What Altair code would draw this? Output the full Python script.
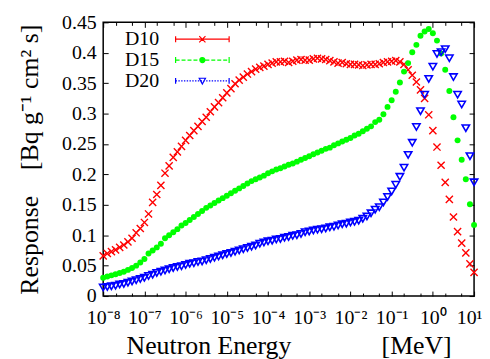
import altair as alt
import pandas as pd

FONT = "Liberation Serif"

# ---------------- data ----------------
series_names = ["D10", "D15", "D20"]

log_energy = [
    -8.0, -7.9, -7.8, -7.7, -7.6, -7.5, -7.4, -7.3, -7.2, -7.1,
    -7.0, -6.9, -6.8, -6.7, -6.6, -6.5, -6.4, -6.3, -6.2, -6.1,
    -6.0, -5.9, -5.8, -5.7, -5.6, -5.5, -5.4, -5.3, -5.2, -5.1,
    -5.0, -4.9, -4.8, -4.7, -4.6, -4.5, -4.4, -4.3, -4.2, -4.1,
    -4.0, -3.9, -3.8, -3.7, -3.6, -3.5, -3.4, -3.3, -3.2, -3.1,
    -3.0, -2.9, -2.8, -2.7, -2.6, -2.5, -2.4, -2.3, -2.2, -2.1,
    -2.0, -1.9, -1.8, -1.7, -1.6, -1.5, -1.4, -1.3, -1.2, -1.1,
    -1.0, -0.9, -0.8, -0.7, -0.6, -0.5, -0.4, -0.3, -0.2, -0.1,
    0.0, 0.1, 0.2, 0.3, 0.4, 0.5, 0.6, 0.7, 0.8, 0.9,
    1.0,
]

d10 = [
    0.066, 0.070, 0.073, 0.076, 0.080, 0.084, 0.089, 0.095, 0.104, 0.111,
    0.121, 0.135, 0.154, 0.167, 0.182, 0.202, 0.214, 0.228, 0.237, 0.246,
    0.256, 0.264, 0.272, 0.279, 0.287, 0.294, 0.303, 0.311, 0.318, 0.326,
    0.334, 0.341, 0.349, 0.355, 0.360, 0.365, 0.369, 0.373, 0.376, 0.378,
    0.381, 0.383, 0.385, 0.385, 0.386, 0.384, 0.386, 0.388, 0.389, 0.388,
    0.388, 0.390, 0.391, 0.390, 0.389, 0.387, 0.385, 0.383, 0.384, 0.382,
    0.381, 0.381, 0.380, 0.379, 0.380, 0.381, 0.381, 0.382, 0.384, 0.385,
    0.386, 0.387, 0.385, 0.381, 0.372, 0.363, 0.352, 0.339, 0.325, 0.298,
    0.272, 0.245, 0.215, 0.187, 0.159, 0.130, 0.106, 0.087, 0.071, 0.053,
    0.039,
]

d15 = [
    0.030, 0.032, 0.034, 0.036, 0.038, 0.040, 0.043, 0.046, 0.050, 0.055,
    0.061, 0.070, 0.075, 0.080, 0.086, 0.095, 0.100, 0.105, 0.110, 0.116,
    0.120, 0.125, 0.130, 0.135, 0.140, 0.145, 0.149, 0.153, 0.157, 0.161,
    0.165, 0.169, 0.173, 0.177, 0.181, 0.185, 0.189, 0.192, 0.195, 0.198,
    0.202, 0.205, 0.208, 0.210, 0.213, 0.216, 0.218, 0.221, 0.224, 0.227,
    0.230, 0.233, 0.236, 0.239, 0.242, 0.244, 0.248, 0.251, 0.254, 0.257,
    0.260, 0.264, 0.267, 0.271, 0.275, 0.279, 0.286, 0.290, 0.299, 0.311,
    0.322, 0.336, 0.351, 0.369, 0.383, 0.401, 0.413, 0.428, 0.435, 0.439,
    0.432, 0.420, 0.399, 0.372, 0.337, 0.294, 0.256, 0.224, 0.192, 0.151,
    0.117,
]

d20 = [
    0.014, 0.015, 0.016, 0.017, 0.019, 0.020, 0.022, 0.024, 0.026, 0.028,
    0.030, 0.033, 0.035, 0.038, 0.040, 0.042, 0.044, 0.046, 0.048, 0.049,
    0.051, 0.053, 0.054, 0.056, 0.057, 0.059, 0.061, 0.063, 0.065, 0.067,
    0.069, 0.071, 0.073, 0.075, 0.077, 0.079, 0.081, 0.083, 0.086, 0.088,
    0.090, 0.091, 0.093, 0.094, 0.096, 0.097, 0.099, 0.100, 0.102, 0.105,
    0.106, 0.108, 0.109, 0.110, 0.111, 0.113, 0.114, 0.116, 0.118, 0.119,
    0.121, 0.122, 0.124, 0.127, 0.131, 0.136, 0.142, 0.146, 0.154, 0.163,
    0.172, 0.183, 0.196, 0.211, 0.232, 0.252, 0.278, 0.304, 0.331, 0.357,
    0.377, 0.398, 0.401, 0.406, 0.391, 0.360, 0.331, 0.315, 0.276, 0.230,
    0.187,
]

x_tick_values = [1e-8, 1e-7, 1e-6, 1e-5, 1e-4, 1e-3, 1e-2, 1e-1, 1e0, 1e1]
x_tick_labels = ["10⁻⁸", "10⁻⁷", "10⁻⁶", "10⁻⁵", "10⁻⁴", "10⁻³",
                 "10⁻²", "10⁻¹", "10⁰", "10¹"]
x_minor_values = [2e-8, 5e-8, 2e-7, 5e-7, 2e-6, 5e-6, 2e-5, 5e-5, 2e-4, 5e-4,
                  2e-3, 5e-3, 2e-2, 5e-2, 2e-1, 5e-1, 2e0, 5e0]
y_tick_values = [0, 0.05, 0.1, 0.15, 0.2, 0.25, 0.3, 0.35, 0.4, 0.45]

x_title = "Neutron Energy" + "\u00a0" * 14 + "[MeV]"
y_title = "Response" + "\u00a0" * 4 + "[Bq g⁻¹ cm² s]"

# ---------------- table ----------------
rows = []
for name, vals in zip(series_names, [d10, d15, d20]):
    for le, v in zip(log_energy, vals):
        rows.append({"series": name, "energy": 10 ** le, "response": v})
df = pd.DataFrame(rows)

# ---------------- styles ----------------
colors = ["#ff0000", "#00ff00", "#0000ff"]
cross_path = "M-1,-1L1,1M-1,1L1,-1"


def fmt(v):
    return f"{v:.3f}"


def dashed(x0, x1, dash, gap):
    parts = []
    x = x0
    while x < x1:
        e = min(x + dash, x1)
        parts.append(f"M{fmt(x)},0H{fmt(e)}")
        x = e + gap
    return "".join(parts)


LX0, LX1, LXC, CAP = 9.29, 17.0, 13.14, 0.43
caps = f"M{LX0},{-CAP}V{CAP}M{LX1},{-CAP}V{CAP}"
leg_d10 = (f"M{LX0},0H{LX1}" + caps +
           f"M{fmt(LXC-0.45)},-0.45L{fmt(LXC+0.45)},0.45"
           f"M{fmt(LXC-0.45)},0.45L{fmt(LXC+0.45)},-0.45")
cr = 0.36
leg_d15 = (dashed(LX0, LX1, 0.571, 0.286) + caps +
           f"M{fmt(LXC-cr)},0A{cr},{cr} 0 1,0 {fmt(LXC+cr)},0"
           f"A{cr},{cr} 0 1,0 {fmt(LXC-cr)},0Z")
leg_d20 = (dashed(LX0, LX1, 0.2, 0.2) + caps +
           f"M{fmt(LXC-0.45)},-0.38L{fmt(LXC+0.45)},-0.38L{fmt(LXC)},0.45Z")
legend_paths = [leg_d10, leg_d15, leg_d20]
legend_fills = ["transparent", "#00ff00", "transparent"]

xscale = alt.Scale(type="log", domain=[1e-8, 10], nice=False)
yscale = alt.Scale(domain=[0, 0.45], nice=False, zero=False)

common = dict(grid=False, domain=False, tickColor="black", tickWidth=1,
              labelFont=FONT, labelFontSize=20, labelColor="black",
              titleFont=FONT, titleFontSize=26, titleFontWeight="normal",
              titleColor="black")

label_expr = ("[" + ",".join(f"'{s}'" for s in x_tick_labels) +
              "][round(log(datum.value)/LN10)+8]")

x_bottom = alt.Axis(orient="bottom", values=x_tick_values, offset=-5, tickSize=5,
                    labelExpr=label_expr, labelPadding=12, labelOverlap=False,
                    labelFlush=False,
                    labelOffset={"condition": {"test": "datum.value > 5", "value": -5}, "value": 0},
                    title=x_title, titleX=187, titleY=63,
                    titleBaseline="alphabetic", **common)
y_left = alt.Axis(orient="left", values=y_tick_values, offset=-5, tickSize=5,
                  format="~g", labelPadding=7, labelOverlap=False, labelFlush=False,
                  title=y_title, titleX=-71, titleY=138,
                  titleBaseline="alphabetic", **common)
x_top = alt.Axis(orient="top", values=x_tick_values, offset=-5, tickSize=5,
                 labels=False, title=None, **common)
y_right = alt.Axis(orient="right", values=y_tick_values, offset=-5, tickSize=5,
                   labels=False, title=None, **common)
x_bottom_minor = alt.Axis(orient="bottom", values=x_minor_values, offset=-3,
                          tickSize=3, labels=False, title=None, **common)
x_top_minor = alt.Axis(orient="top", values=x_minor_values, offset=-3,
                       tickSize=3, labels=False, title=None, **common)

base = alt.Chart(df)


def X(axis):
    return alt.X("energy:Q", scale=xscale, axis=axis)


def Y(axis):
    return alt.Y("response:Q", scale=yscale, axis=axis)


l_d10 = base.transform_filter(alt.datum.series == "D10").mark_point(
    shape=cross_path, size=52, filled=False, color=colors[0], strokeWidth=1.4, opacity=1
).encode(x=X(x_bottom), y=Y(y_left))

l_d15 = base.transform_filter(alt.datum.series == "D15").mark_point(
    shape="circle", size=36, filled=True, color=colors[1], opacity=1
).encode(x=X(None), y=Y(None))

l_d20 = base.transform_filter(alt.datum.series == "D20").mark_point(
    shape="triangle-down", size=55, filled=False, color=colors[2], strokeWidth=1.6, opacity=1
).encode(x=X(None), y=Y(None))

leg = alt.Legend(title=None, orient="none", legendX=-2, legendY=7, symbolSize=196,
                 labelFont=FONT, labelFontSize=20, labelColor="black",
                 rowPadding=1, padding=0, symbolStrokeWidth=1.2, labelOffset=4,
                 symbolOffset=0)

l_legend = base.transform_filter("false").mark_point(filled=True, opacity=1).encode(
    x=X(None), y=Y(None),
    shape=alt.Shape("series:N", scale=alt.Scale(domain=series_names, range=legend_paths), legend=leg),
    stroke=alt.Stroke("series:N", scale=alt.Scale(domain=series_names, range=colors), legend=leg),
    fill=alt.Fill("series:N", scale=alt.Scale(domain=series_names, range=legend_fills), legend=leg),
)

l_ax1 = base.mark_point(opacity=0).encode(x=X(x_top), y=Y(y_right))
l_ax2 = base.mark_point(opacity=0).encode(x=X(x_bottom_minor), y=Y(None))
l_ax3 = base.mark_point(opacity=0).encode(x=X(x_top_minor), y=Y(None))

chart = alt.layer(
    l_ax1, l_ax2, l_ax3, l_d10, l_d15, l_d20, l_legend
).resolve_axis(
    x="independent", y="independent"
).properties(
    width=374, height=276,
    padding={"left": 96, "top": 13, "right": 8, "bottom": 62},
    autosize="none",
).configure_view(stroke="black", strokeWidth=1.5)

chart.save("out.html", embed_options={"renderer": "svg", "actions": False})
